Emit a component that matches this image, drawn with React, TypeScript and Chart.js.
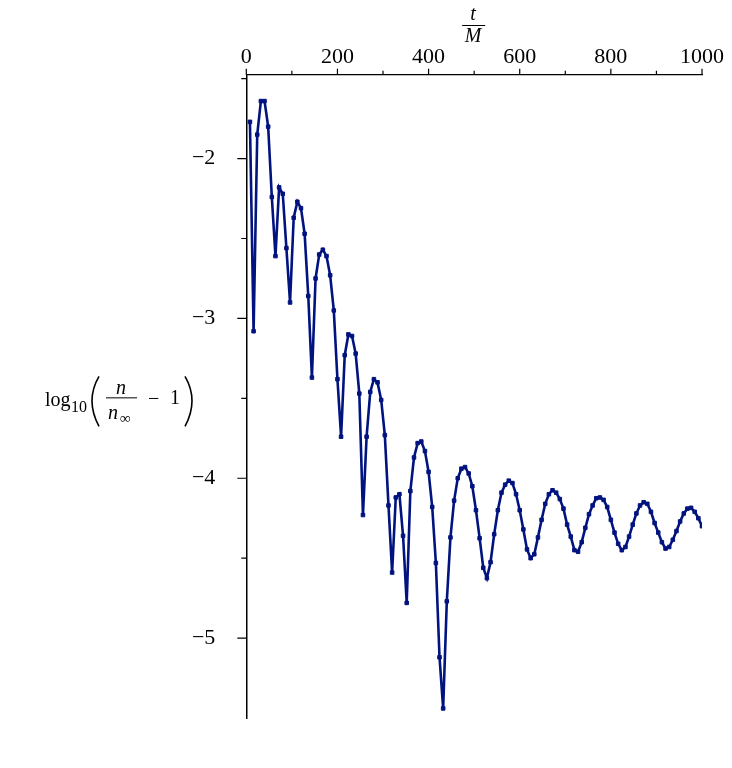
import React, { useEffect, useRef } from 'react';
import { Chart, registerables } from 'chart.js';

Chart.register(...registerables);

// time in units of M
const tValues = [
  8, 16, 24, 32, 40, 48, 56, 64, 72, 80, 88, 96, 104, 112, 120, 128, 136, 144, 152, 160,
  168, 176, 184, 192, 200, 208, 216, 224, 232, 240, 248, 256, 264, 272, 280, 288, 296, 304, 312, 320,
  328, 336, 344, 352, 360, 368, 376, 384, 392, 400, 408, 416, 424, 432, 440, 448, 456, 464, 472, 480,
  488, 496, 504, 512, 520, 528, 536, 544, 552, 560, 568, 576, 584, 592, 600, 608, 616, 624, 632, 640,
  648, 656, 664, 672, 680, 688, 696, 704, 712, 720, 728, 736, 744, 752, 760, 768, 776, 784, 792, 800,
  808, 816, 824, 832, 840, 848, 856, 864, 872, 880, 888, 896, 904, 912, 920, 928, 936, 944, 952, 960,
  968, 976, 984, 992, 1000, 1008,
];

// log10(n / n_inf - 1)
const logValues = [
  -1.77, -3.08, -1.85, -1.64, -1.64, -1.8, -2.24, -2.61, -2.18, -2.22, -2.56, -2.9, -2.37, -2.27, -2.31, -2.47, -2.86, -3.37, -2.75, -2.6,
  -2.57, -2.61, -2.73, -2.95, -3.38, -3.74, -3.23, -3.1, -3.11, -3.22, -3.47, -4.23, -3.74, -3.46, -3.38, -3.4, -3.51, -3.73, -4.17, -4.59,
  -4.12, -4.1, -4.36, -4.78, -4.08, -3.87, -3.78, -3.77, -3.83, -3.96, -4.18, -4.53, -5.12, -5.44, -4.77, -4.37, -4.14, -4.0, -3.94, -3.93,
  -3.97, -4.05, -4.2, -4.375, -4.56, -4.625, -4.525, -4.35, -4.2, -4.09, -4.04, -4.015, -4.03, -4.1, -4.2, -4.32, -4.445, -4.5, -4.475, -4.37,
  -4.26, -4.16, -4.1, -4.075, -4.09, -4.13, -4.19, -4.29, -4.365, -4.45, -4.46, -4.4, -4.31, -4.225, -4.17, -4.125, -4.12, -4.135, -4.18, -4.26,
  -4.34, -4.41, -4.45, -4.43, -4.365, -4.29, -4.22, -4.17, -4.15, -4.16, -4.21, -4.28, -4.34, -4.4, -4.44, -4.43, -4.385, -4.33, -4.27, -4.22,
  -4.19, -4.185, -4.21, -4.25, -4.3, -4.36,
];

const xMajorTicks = [0, 200, 400, 600, 800, 1000];
const xMinorTicks = [100, 300, 500, 700, 900];
const yMajorTicks = [-2, -3, -4, -5];
const yMinorTicks = [-1.5, -2.5, -3.5, -4.5];

const LINE_COLOR = '#00137f';
const SERIF = '"Liberation Serif", "DejaVu Serif", serif';

const decorPlugin = {
  id: 'decor',
  afterDraw(chart: any) {
    const { ctx, chartArea, scales } = chart;
    const xs = scales.x;
    const ys = scales.y;
    const top = chartArea.top;
    const left = chartArea.left;
    ctx.save();
    ctx.strokeStyle = '#000';
    ctx.lineWidth = 1.2;
    ctx.beginPath();
    xMajorTicks.forEach((v) => {
      const px = xs.getPixelForValue(v);
      ctx.moveTo(px, top);
      ctx.lineTo(px, top - 6);
    });
    xMinorTicks.forEach((v) => {
      const px = xs.getPixelForValue(v);
      ctx.moveTo(px, top);
      ctx.lineTo(px, top - 4);
    });
    yMajorTicks.forEach((v) => {
      const py = ys.getPixelForValue(v);
      ctx.moveTo(left, py);
      ctx.lineTo(left - 9, py);
    });
    yMinorTicks.forEach((v) => {
      const py = ys.getPixelForValue(v);
      ctx.moveTo(left, py);
      ctx.lineTo(left - 5, py);
    });
    ctx.stroke();

    // x-axis title: t / M
    const cx = (chartArea.left + chartArea.right) / 2;
    ctx.fillStyle = '#000';
    ctx.textAlign = 'center';
    ctx.textBaseline = 'alphabetic';
    ctx.font = `italic 20px ${SERIF}`;
    ctx.fillText('t', cx - 1, 20);
    ctx.fillText('M', cx - 1, 42);
    ctx.lineWidth = 1;
    ctx.beginPath();
    ctx.moveTo(cx - 12, 25.5);
    ctx.lineTo(cx + 11, 25.5);
    ctx.stroke();

    // y-axis title: log10( n / n_inf - 1 )
    const cy = (chartArea.top + chartArea.bottom) / 2 + 4;
    ctx.textAlign = 'left';
    ctx.font = `20px ${SERIF}`;
    ctx.fillText('log', 45, cy + 6);
    ctx.font = `16px ${SERIF}`;
    ctx.fillText('10', 71, cy + 12);
    // parentheses
    ctx.lineWidth = 1.6;
    ctx.beginPath();
    ctx.moveTo(99, cy - 24);
    ctx.quadraticCurveTo(85, cy, 99, cy + 26);
    ctx.stroke();
    ctx.beginPath();
    ctx.moveTo(185, cy - 24);
    ctx.quadraticCurveTo(199, cy, 185, cy + 26);
    ctx.stroke();
    // fraction
    ctx.font = `italic 20px ${SERIF}`;
    ctx.textAlign = 'center';
    ctx.fillText('n', 121, cy - 6);
    ctx.lineWidth = 1;
    ctx.beginPath();
    ctx.moveTo(106, cy - 2.5);
    ctx.lineTo(137, cy - 2.5);
    ctx.stroke();
    ctx.textAlign = 'left';
    ctx.fillText('n', 108, cy + 19);
    ctx.font = `15px ${SERIF}`;
    ctx.fillText('\u221e', 120, cy + 23);
    ctx.font = `20px ${SERIF}`;
    ctx.fillText('\u2212', 148, cy + 5);
    ctx.fillText('1', 170, cy + 4);
    ctx.restore();
  },
};

export default function App() {
  const canvasRef = useRef<HTMLCanvasElement | null>(null);

  useEffect(() => {
    if (!canvasRef.current) return;
    const points = tValues.map((t, i) => ({ x: t, y: logValues[i] }));
    const chart = new Chart(canvasRef.current, {
      type: 'line',
      data: {
        datasets: [
          {
            data: points,
            borderColor: LINE_COLOR,
            backgroundColor: LINE_COLOR,
            borderWidth: 2.6,
            pointStyle: 'rect',
            pointRadius: 2.5,
            pointBorderWidth: 1,
            pointBackgroundColor: LINE_COLOR,
            pointBorderColor: LINE_COLOR,
            tension: 0,
            fill: false,
          },
        ],
      },
      options: {
        responsive: false,
        animation: false,
        devicePixelRatio: 1,
        layout: { padding: { top: 0, left: 0, right: 30, bottom: 50 } },
        plugins: {
          legend: { display: false },
          tooltip: { enabled: false },
        },
        scales: {
          x: {
            type: 'linear',
            position: 'top',
            min: 0,
            max: 1000,
            grid: { display: false },
            border: { display: true, color: '#000', width: 1.3 },
            ticks: {
              stepSize: 200,
              autoSkip: false,
              maxRotation: 0,
              includeBounds: false,
              padding: -4,
              color: '#000',
              font: { family: SERIF, size: 22 },
              callback: (v: any) => String(v),
            },
            afterFit: (scale: any) => {
              scale.height = 74.7;
            },
          },
          y: {
            type: 'linear',
            position: 'left',
            min: -5.5,
            max: -1.475,
            grid: { display: false },
            border: { display: true, color: '#000', width: 1.5 },
            ticks: {
              stepSize: 1,
              autoSkip: false,
              includeBounds: false,
              padding: 23,
              color: '#000',
              font: { family: SERIF, size: 22 },
              callback: (v: any) => (Number(v) < 0 ? '\u2212' : '') + Math.abs(Number(v)),
            },
            afterFit: (scale: any) => {
              scale.width = 246.3;
            },
          },
        },
      },
      plugins: [decorPlugin],
    });
    return () => chart.destroy();
  }, []);

  return (
    <div style={{ position: 'fixed', left: 0, top: 0, width: 732, height: 768, background: '#fff' }}>
      <canvas ref={canvasRef} width={732} height={768} />
    </div>
  );
}
